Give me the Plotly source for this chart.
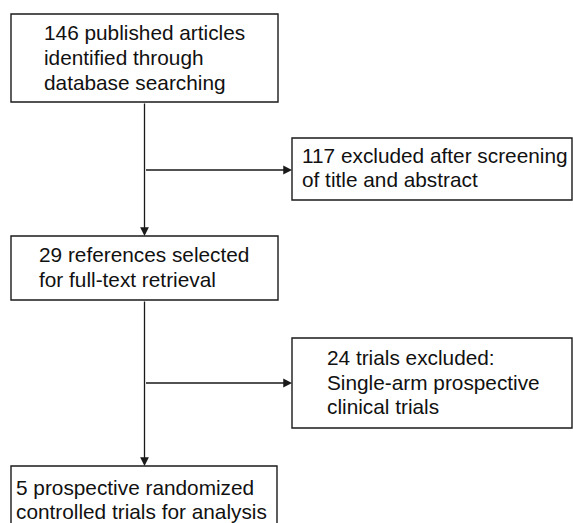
import plotly.graph_objects as go

# Content of the flow chart (text per box, one entry per line)
box1_lines = ["146 published articles", "identified through", "database searching"]
box2_lines = ["117 excluded after screening", "of title and abstract"]
box3_lines = ["29 references selected", "for full-text retrieval"]
box4_lines = ["24 trials excluded:", "Single-arm prospective", "clinical trials"]
box5_lines = ["5 prospective randomized", "controlled trials for analysis"]

W, H = 573, 523
FONT = dict(family="Liberation Sans, Arial, sans-serif", size=20.8, color="#111111")
LINE = "#1a1a1a"

# layout geometry: (x0, y0, x1, y1, text_x, first_baseline, line_gap)
boxes = [
    (box1_lines, (11, 14, 278, 102, 42, 40, 25)),
    (box2_lines, (292, 138, 572, 200, 300, 163, 24)),
    (box3_lines, (11, 236, 278, 300, 37, 262, 25)),
    (box4_lines, (292, 338, 572, 428, 325, 365, 24.5)),
    (box5_lines, (11, 466, 277, 524, 14, 495, 23.5)),
]

fig = go.Figure()
fig.add_trace(go.Scatter(x=[0, W], y=[0, H], mode="markers",
                         marker=dict(opacity=0), hoverinfo="skip", showlegend=False))

shapes = []
annotations = []
for lines, (x0, y0, x1, y1, tx, b0, gap) in boxes:
    shapes.append(dict(type="rect", xref="x", yref="y", x0=x0, y0=y0, x1=x1, y1=y1,
                       line=dict(color=LINE, width=1.4), fillcolor="white", layer="below"))
    for i, t in enumerate(lines):
        base = b0 + i * gap
        annotations.append(dict(x=tx, y=base - 0.35 * FONT["size"], xref="x", yref="y",
                                text=t, showarrow=False, xanchor="left", yanchor="middle",
                                font=FONT))

# connectors
cx = 144.5
arrows = [
    (cx, 102, cx, 236),    # box1 -> box3
    (cx, 170, 292, 170),   # branch -> box2
    (cx, 300, cx, 466),    # box3 -> box5
    (cx, 383, 292, 383),   # branch -> box4
]
for (ax, ay, x, y) in arrows:
    annotations.append(dict(x=x, y=y, ax=ax, ay=ay, xref="x", yref="y", axref="x", ayref="y",
                            showarrow=True, arrowhead=2, arrowsize=1.35, arrowwidth=1.3,
                            arrowcolor=LINE, standoff=0, text=""))

fig.update_layout(
    width=W, height=H,
    margin=dict(l=0, r=0, t=0, b=0),
    paper_bgcolor="white", plot_bgcolor="white",
    xaxis=dict(range=[0, W], visible=False, fixedrange=True),
    yaxis=dict(range=[H, 0], visible=False, fixedrange=True),
    shapes=shapes, annotations=annotations, showlegend=False,
    hovermode=False,
)
fig.write_html("out.html",
               config=dict(displayModeBar=False, staticPlot=True),
               post_script="document.body.style.margin='0';document.body.style.overflow='hidden';")
